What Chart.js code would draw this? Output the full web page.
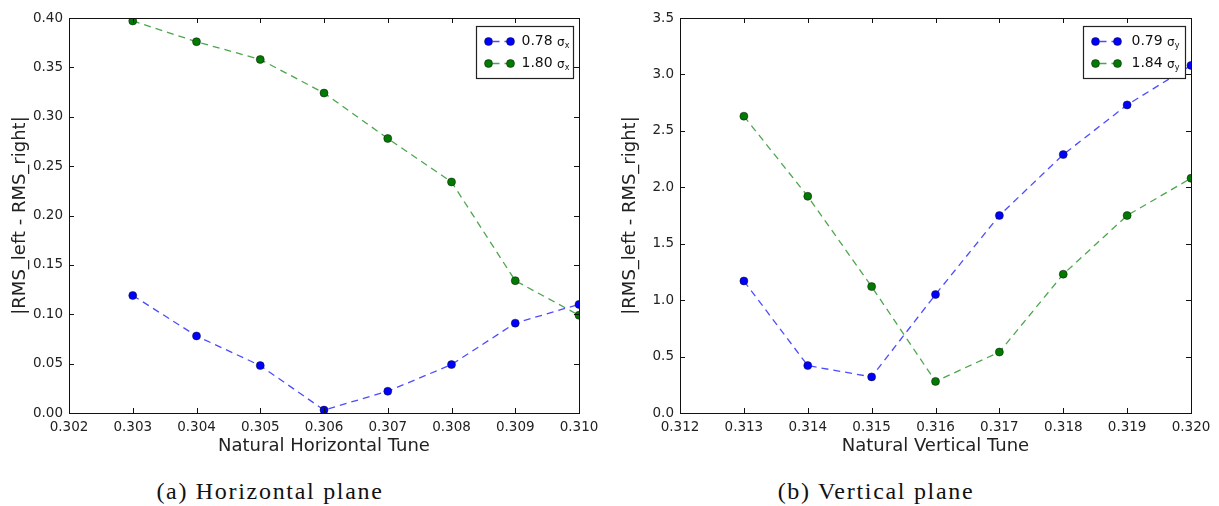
<!DOCTYPE html>
<html>
<head>
<meta charset="utf-8">
<script src="https://cdn.jsdelivr.net/npm/chart.js@4/dist/chart.umd.min.js"></script>
<style>
  body { margin: 0; background: #fff; width: 1219px; height: 506px; position: relative; overflow: hidden; }
  .panel { position: absolute; top: 0; width: 609px; height: 460px; }
  .caption { position: absolute; top: 478px; font-family: "Liberation Serif", "DejaVu Serif", serif; font-size: 24px; letter-spacing: 1.7px; color: #111; text-align: center; }
</style>
</head>
<body>
<div class="panel" style="left:0"><canvas id="horiz" width="609" height="460"></canvas></div>
<div class="panel" style="left:610px"><canvas id="vert" width="609" height="460"></canvas></div>
<div class="caption" style="left:120px;width:300px">(a) Horizontal plane</div>
<div class="caption" style="left:726px;width:300px">(b) Vertical plane</div>
<script>
// horizontal plane
const hTune = [0.303, 0.304, 0.305, 0.306, 0.307, 0.308, 0.309, 0.310];
const hSmall = [0.119, 0.078, 0.048, 0.003, 0.022, 0.049, 0.091, 0.110];
const hLarge = [0.397, 0.376, 0.358, 0.324, 0.278, 0.234, 0.134, 0.099];
const hNames = ["0.78", "1.80"];

// vertical plane
const vTune = [0.313, 0.314, 0.315, 0.316, 0.317, 0.318, 0.319, 0.320];
const vSmall = [1.17, 0.42, 0.32, 1.05, 1.75, 2.29, 2.73, 3.08];
const vLarge = [2.63, 1.92, 1.12, 0.28, 0.54, 1.23, 1.75, 2.08];
const vNames = ["0.79", "1.84"];

const blue = "#0000ff", green = "#007a00";

function pts(xs, ys) {
  return xs.map((x, i) => ({ x: x, y: ys[i] }));
}

function series(name, sub, xs, ys, col, lineCol) {
  return {
    label: name + " σ" + sub,
    name: name,
    sub: sub,
    data: pts(xs, ys),
    borderColor: lineCol,
    borderWidth: 1.3,
    borderDash: [7, 5],
    backgroundColor: col,
    pointBackgroundColor: col,
    pointBorderColor: "#111",
    pointBorderWidth: 0.5,
    pointRadius: 4,
    tension: 0,
    fill: false
  };
}

// inward ticks on all four sides + frame + boxed legend
const framePlugin = {
  id: "frame",
  afterDatasetsDraw(chart) {
    const ctx = chart.ctx;
    const a = chart.chartArea;
    const xs = chart.scales.x, ys = chart.scales.y;
    ctx.save();
    ctx.strokeStyle = "#111";
    ctx.lineWidth = 1;
    ctx.beginPath();
    xs.ticks.forEach(t => {
      const px = Math.round(xs.getPixelForValue(t.value)) + 0.5;
      ctx.moveTo(px, a.bottom); ctx.lineTo(px, a.bottom - 5);
      ctx.moveTo(px, a.top); ctx.lineTo(px, a.top + 5);
    });
    ys.ticks.forEach(t => {
      const py = Math.round(ys.getPixelForValue(t.value)) + 0.5;
      ctx.moveTo(a.left, py); ctx.lineTo(a.left + 5, py);
      ctx.moveTo(a.right, py); ctx.lineTo(a.right - 5, py);
    });
    ctx.stroke();
    ctx.strokeRect(Math.round(a.left) + 0.5, Math.round(a.top) + 0.5,
      Math.round(a.right - a.left), Math.round(a.bottom - a.top));

    // legend
    const bw = chart.options.legendWidth, bh = 52;
    const bx = Math.round(a.right - 6 - bw) + 0.5, by = Math.round(a.top + 8) + 0.5;
    ctx.fillStyle = "#fff";
    ctx.fillRect(bx, by, bw, bh);
    ctx.strokeStyle = "#222";
    ctx.lineWidth = 1.2;
    ctx.strokeRect(bx, by, bw, bh);
    chart.data.datasets.forEach((ds, i) => {
      const cy = by + 15 + i * 22;
      const m1 = bx + 12, m2 = bx + 34;
      ctx.strokeStyle = ds.borderColor;
      ctx.lineWidth = 1.3;
      ctx.setLineDash([7, 5]);
      ctx.lineDashOffset = -4;
      ctx.beginPath(); ctx.moveTo(m1, cy); ctx.lineTo(m2, cy); ctx.stroke();
      ctx.setLineDash([]);
      [m1, m2].forEach(mx => {
        ctx.beginPath(); ctx.arc(mx, cy, 4, 0, Math.PI * 2);
        ctx.fillStyle = ds.pointBackgroundColor; ctx.fill();
        ctx.strokeStyle = "#111"; ctx.lineWidth = 0.5; ctx.stroke();
      });
      ctx.fillStyle = "#111";
      ctx.textBaseline = "middle";
      ctx.font = "14px 'DejaVu Sans'";
      const tx = bx + 45 + chart.options.legendShift;
      ctx.fillText(ds.name, tx, cy);
      let w = ctx.measureText(ds.name + " ").width;
      ctx.font = "12px 'DejaVu Sans'";
      ctx.fillText("σ", tx + w, cy + 1);
      w += ctx.measureText("σ").width;
      ctx.font = "8px 'DejaVu Sans'";
      ctx.fillText(ds.sub, tx + w, cy + 4);
    });
    ctx.restore();
  }
};

function makeChart(id, xs, small, large, names, sub, xMin, xMax, yMax, yStep, yDigits, xTitle, yWidth, padRight, legW, legShift) {
  return new Chart(document.getElementById(id), {
    type: "line",
    data: {
      datasets: [
        series(names[0], sub, xs, small, blue, "rgba(0,0,255,0.7)"),
        series(names[1], sub, xs, large, green, "rgba(0,128,0,0.7)")
      ]
    },
    options: {
      responsive: false,
      animation: false,
      legendWidth: legW,
      legendShift: legShift,
      layout: { padding: { top: 18, right: padRight, left: 0, bottom: 0 } },
      plugins: { legend: { display: false }, tooltip: { enabled: false } },
      scales: {
        x: {
          type: "linear",
          min: xMin, max: xMax,
          grid: { display: false, drawTicks: false },
          border: { display: false },
          afterFit: s => { s.height = 47; },
          ticks: {
            stepSize: 0.001,
            padding: 6,
            color: "#222",
            font: { family: "DejaVu Sans", size: 13.5 },
            callback: v => v.toFixed(3)
          },
          title: {
            display: true, text: xTitle, color: "#222",
            font: { family: "DejaVu Sans", size: 18 },
            padding: { top: 0, bottom: 3 }
          }
        },
        y: {
          min: 0, max: yMax,
          grid: { display: false, drawTicks: false },
          border: { display: false },
          afterFit: s => { s.width = yWidth; },
          ticks: {
            stepSize: yStep,
            padding: 6,
            color: "#222",
            font: { family: "DejaVu Sans", size: 13.5 },
            callback: v => v.toFixed(yDigits)
          },
          title: {
            display: true, text: "|RMS_left - RMS_right|", color: "#222",
            font: { family: "DejaVu Sans", size: 18 },
            padding: { top: 10, bottom: 0 }
          }
        }
      }
    },
    plugins: [framePlugin]
  });
}

makeChart("horiz", hTune, hSmall, hLarge, hNames, "x", 0.302, 0.310, 0.40, 0.05, 2,
  "Natural Horizontal Tune", 69, 30, 97, 0);
makeChart("vert", vTune, vSmall, vLarge, vNames, "y", 0.312, 0.320, 3.5, 0.5, 1,
  "Natural Vertical Tune", 70, 28, 102, 3);
</script>
</body>
</html>
